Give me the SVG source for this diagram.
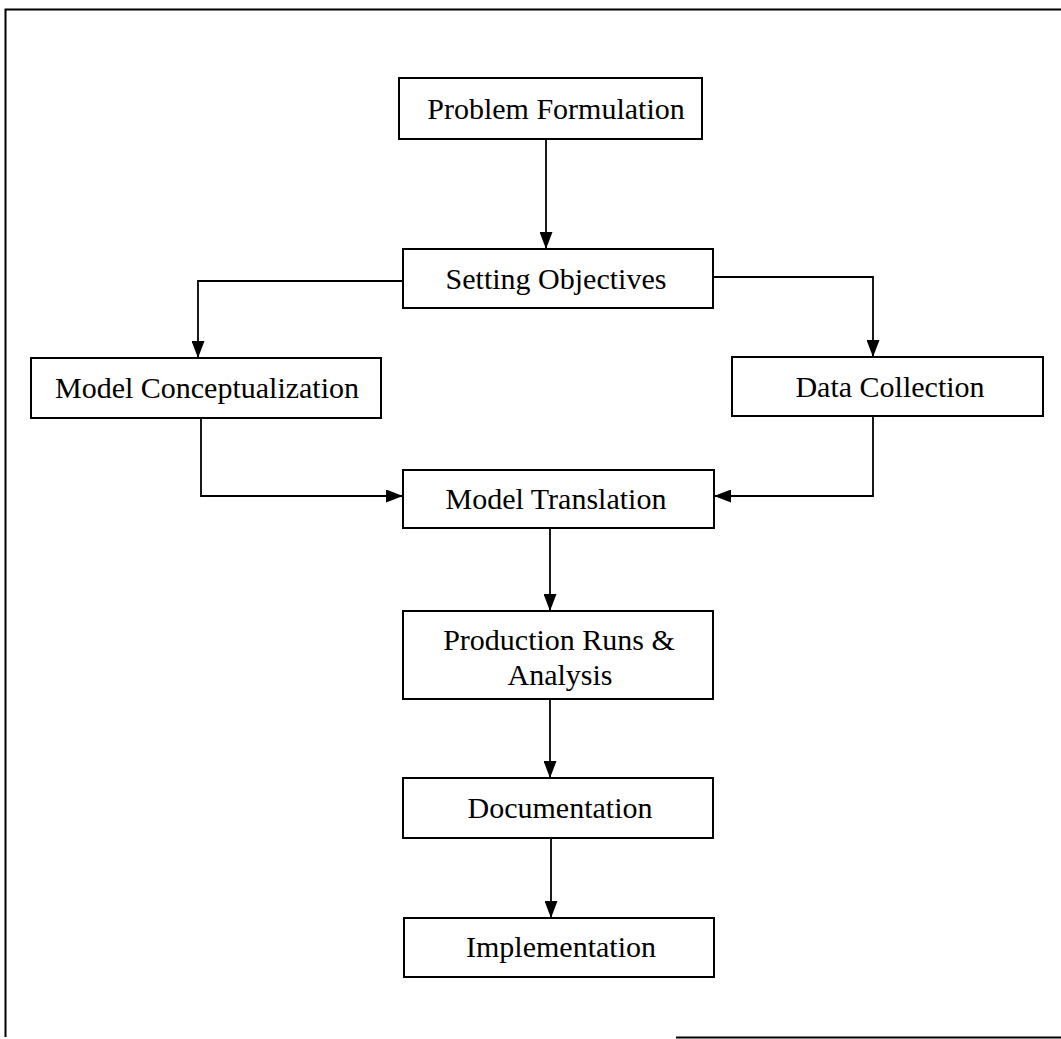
<svg xmlns="http://www.w3.org/2000/svg" width="1061" height="1039" viewBox="0 0 1061 1039">
  <style>
    .box { fill: #ffffff; stroke: #000000; stroke-width: 2; }
    .lbl { font-family: "Liberation Serif", "Times New Roman", serif; font-size: 30px; fill: #000000; text-anchor: middle; }
    .conn { fill: none; stroke: #000000; stroke-width: 1.8; }
    .frame { fill: none; stroke: #000000; stroke-width: 2; }
  </style>
  <defs>
    <marker id="arrow" markerUnits="userSpaceOnUse" markerWidth="17" markerHeight="13" refX="17" refY="6.5" orient="auto" viewBox="0 0 17 13">
      <path d="M0,0 L17,6.5 L0,13 Z" fill="#000000"/>
    </marker>
  </defs>
  <rect width="1061" height="1039" fill="#ffffff"/>
  <g id="frame">
    <path class="frame" d="M1061,9.5 L5.5,9.5 L5.5,1037"/>
    <path class="frame" d="M676,1037.5 L1061,1037.5"/>
  </g>
  <g id="connectors">
    <path class="conn" d="M546,139 L546,249" marker-end="url(#arrow)"/>
    <path class="conn" d="M403,281 L198,281 L198,358" marker-end="url(#arrow)"/>
    <path class="conn" d="M713,277 L873,277 L873,357" marker-end="url(#arrow)"/>
    <path class="conn" d="M201,418 L201,496 L403,496" marker-end="url(#arrow)"/>
    <path class="conn" d="M873,416 L873,496 L714,496" marker-end="url(#arrow)"/>
    <path class="conn" d="M550,528 L550,611" marker-end="url(#arrow)"/>
    <path class="conn" d="M550,699 L550,778" marker-end="url(#arrow)"/>
    <path class="conn" d="M551,838 L551,918" marker-end="url(#arrow)"/>
  </g>
  <g id="problem-formulation">
    <rect class="box" x="399" y="78" width="303" height="61"/>
    <text class="lbl" x="556" y="119">Problem Formulation</text>
  </g>
  <g id="setting-objectives">
    <rect class="box" x="403" y="249" width="310" height="59"/>
    <text class="lbl" x="556" y="289">Setting Objectives</text>
  </g>
  <g id="model-conceptualization">
    <rect class="box" x="31" y="358" width="350" height="60"/>
    <text class="lbl" x="207" y="398">Model Conceptualization</text>
  </g>
  <g id="data-collection">
    <rect class="box" x="732" y="357" width="311" height="59"/>
    <text class="lbl" x="890" y="397">Data Collection</text>
  </g>
  <g id="model-translation">
    <rect class="box" x="403" y="470" width="311" height="58"/>
    <text class="lbl" x="556" y="509">Model Translation</text>
  </g>
  <g id="production-runs-analysis">
    <rect class="box" x="403" y="611" width="310" height="88"/>
    <text class="lbl" x="559" y="650">Production Runs &amp;</text>
    <text class="lbl" x="560" y="685">Analysis</text>
  </g>
  <g id="documentation">
    <rect class="box" x="403" y="778" width="310" height="60"/>
    <text class="lbl" x="560" y="818">Documentation</text>
  </g>
  <g id="implementation">
    <rect class="box" x="404" y="918" width="310" height="59"/>
    <text class="lbl" x="561" y="957">Implementation</text>
  </g>
</svg>
